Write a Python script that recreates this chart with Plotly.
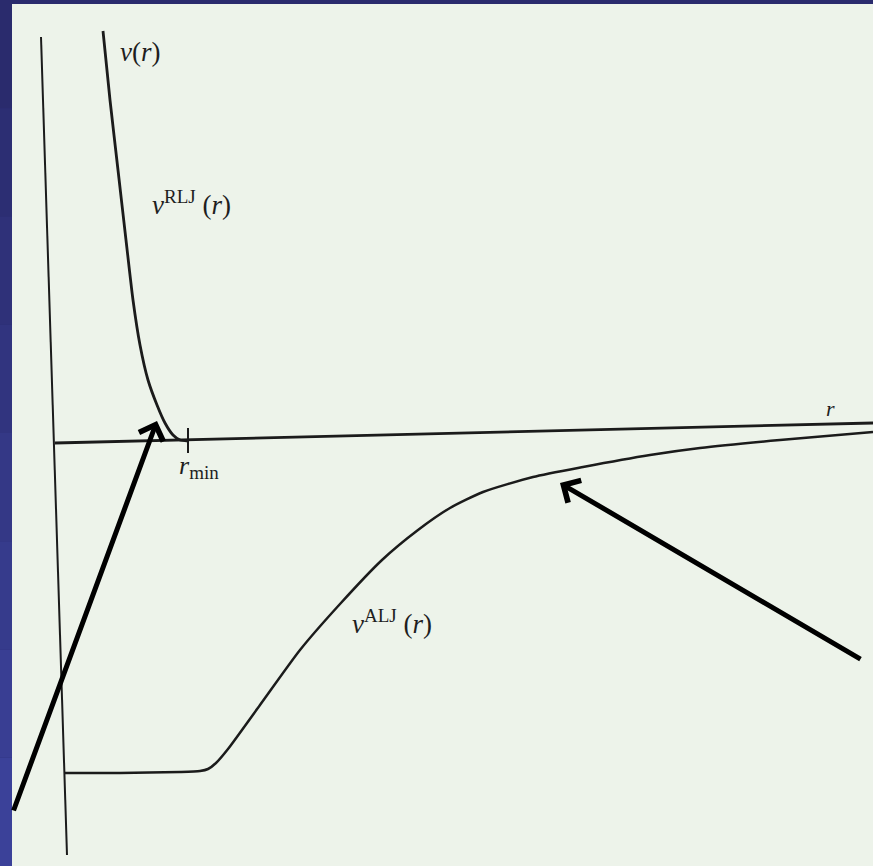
import plotly.graph_objects as go

# Reduced distance r and potential v (arbitrary units)
rlj_r = [0.43, 0.50, 0.58, 0.66, 0.73, 0.80, 0.88, 0.97, 1.05, 1.13, 1.20, 1.28]
rlj_v = [4.09, 3.40, 2.70, 2.00, 1.40, 0.95, 0.60, 0.35, 0.17, 0.05, 0.00, -0.01]

alj_r = [0.04, 0.60, 1.20, 1.40, 1.48, 1.56, 1.68, 2.00, 2.40, 2.80, 3.22, 3.58,
         3.90, 4.23, 4.73, 5.23, 5.90, 6.40, 7.20, 8.13]
alj_v = [-3.33, -3.33, -3.32, -3.31, -3.29, -3.23, -3.09, -2.65, -2.10, -1.64, -1.20,
         -0.90, -0.68, -0.52, -0.37, -0.27, -0.15, -0.08, 0.00, 0.08]

# drawn axes of the sketch
v_axis_r = [-0.19, 0.07]
v_axis_v = [4.03, -4.15]
r_axis_r = [-0.05, 8.13]
r_axis_v = [-0.03, 0.17]

r_min = 1.28
r_min_tick_v = [0.12, -0.13]

# pointer arrows: (tip r, tip v, tail r, tail v)
pointer_rlj = (0.97, 0.19, -0.47, -3.72)
pointer_alj = (5.00, -0.43, 8.02, -2.20)

INK = "#1b1b1b"
SERIF = "Liberation Serif, Times New Roman, serif"

fig = go.Figure()

def ink_line(xs, ys, width, shape="linear"):
    fig.add_trace(go.Scatter(x=xs, y=ys, mode="lines",
                             line=dict(color=INK, width=width, shape=shape, smoothing=0.6),
                             hoverinfo="skip", showlegend=False))

ink_line(v_axis_r, v_axis_v, 2)
ink_line(r_axis_r, r_axis_v, 2.8)
ink_line(rlj_r, rlj_v, 2.8, "spline")
ink_line(alj_r, alj_v, 2.5, "spline")
ink_line([r_min, r_min], r_min_tick_v, 2)

# slide background: blue frame with a light page
x_lo, x_hi = -0.6, 8.13
y_lo, y_hi = -4.26, 4.40
blues = ["#2a2b6d", "#2c2e73", "#2f3179", "#31347f", "#343886", "#363b8c", "#393e93", "#3b4199"]
n = len(blues)
for i, c in enumerate(blues):
    y1 = y_hi - (y_hi - y_lo) * i / n
    y0 = y_hi - (y_hi - y_lo) * (i + 1) / n
    fig.add_shape(type="rect", xref="x", yref="y", x0=x_lo, x1=x_hi, y0=y0, y1=y1,
                  fillcolor=c, line_width=0, layer="below")
fig.add_shape(type="rect", xref="x", yref="y", x0=-0.48, x1=x_hi, y0=y_lo, y1=4.36,
              fillcolor="#edf3ea", line_width=0, layer="below")

def label(text, x, y, size):
    fig.add_annotation(x=x, y=y, xref="x", yref="y", text=text, showarrow=False,
                       font=dict(family=SERIF, size=size, color="#1e1e1e"))

def sup_label(name):
    return ("<i>v</i><sup><span style='font-size:19px'>" + name +
            "</span></sup> (<i>r</i>)")

label("<i>v</i>(<i>r</i>)", 0.80, 3.88, 27)
label(sup_label("RLJ"), 1.31, 2.37, 27)
label(sup_label("ALJ"), 3.32, -1.82, 27)
label("<i>r</i><sub><span style='font-size:19px'>min</span></sub>", 1.39, -0.27, 26)
label("<i>r</i>", 7.70, 0.32, 22)

for tip_r, tip_v, tail_r, tail_v in (pointer_rlj, pointer_alj):
    fig.add_annotation(x=tip_r, y=tip_v, ax=tail_r, ay=tail_v, xref="x", yref="y",
                       axref="x", ayref="y", text="", showarrow=True,
                       arrowhead=4, arrowsize=1.0, arrowwidth=5, arrowcolor="#000000")

fig.update_layout(
    width=873, height=866,
    margin=dict(l=0, r=0, t=0, b=0),
    paper_bgcolor="#2b2c70", plot_bgcolor="rgba(0,0,0,0)",
    xaxis=dict(range=[x_lo, x_hi], visible=False, fixedrange=True),
    yaxis=dict(range=[y_lo, y_hi], visible=False, fixedrange=True),
    showlegend=False,
)

fig.write_html("out.html")
